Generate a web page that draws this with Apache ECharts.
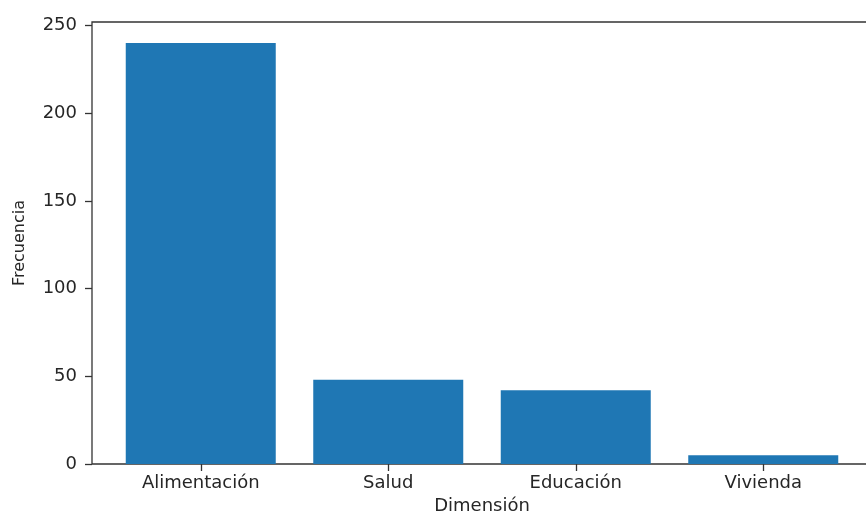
<!DOCTYPE html>
<html>
<head>
<meta charset="utf-8">
<script src="https://cdn.jsdelivr.net/npm/echarts@6/dist/echarts.min.js"></script>
<style>html,body{margin:0;padding:0;background:#fff;}#c{width:866px;height:511px;}</style>
</head>
<body>
<div id="c"></div>
<script>
var categories = ['Alimentación', 'Salud', 'Educación', 'Vivienda'];
var frecuencia = [240, 48, 42, 5];
var yTicks = [0, 50, 100, 150, 200, 250];
var yMax = 252;

var chart = echarts.init(document.getElementById('c'), null, {renderer: 'canvas'});
var font = 'DejaVu Sans';
var axisColor = '#333';
var textColor = '#262626';
chart.setOption({
  animation: false,
  backgroundColor: '#fff',
  grid: [
    {left: 92, right: -8, top: 22, bottom: 47, show: true, borderColor: axisColor, borderWidth: 1.3,
     backgroundColor: 'transparent', containLabel: false, outerBoundsMode: 'none'},
    {left: 107, right: 9, top: 22, bottom: 47, containLabel: false, outerBoundsMode: 'none'}
  ],
  xAxis: [
    {gridIndex: 0, type: 'value', min: 0, max: 1, show: false},
    {gridIndex: 1, type: 'category', data: categories,
     axisLine: {show: false},
     axisTick: {show: true, alignWithLabel: true, length: 7, lineStyle: {color: axisColor, width: 1.3}},
     axisLabel: {fontFamily: font, fontSize: 18, color: textColor, margin: 10},
     name: 'Dimensión', nameLocation: 'middle', nameGap: 32,
     nameTextStyle: {fontFamily: font, fontSize: 18, color: textColor}}
  ],
  yAxis: [
    {gridIndex: 0, type: 'value', min: 0, max: yMax,
     axisLine: {show: false},
     axisTick: {show: true, length: 7, lineStyle: {color: axisColor, width: 1.3},
       customValues: yTicks},
     axisLabel: {fontFamily: font, fontSize: 18, color: textColor, margin: 15,
       customValues: yTicks},
     splitLine: {show: false},
     name: 'Frecuencia', nameLocation: 'middle', nameGap: 64, nameRotate: 90,
     nameTextStyle: {fontFamily: font, fontSize: 16, color: textColor}},
    {gridIndex: 1, type: 'value', min: 0, max: yMax, show: false}
  ],
  series: [{
    type: 'bar',
    xAxisIndex: 1, yAxisIndex: 1,
    data: frecuencia,
    barWidth: '80%',
    itemStyle: {color: '#1f77b4'}
  }]
});
</script>
</body>
</html>
